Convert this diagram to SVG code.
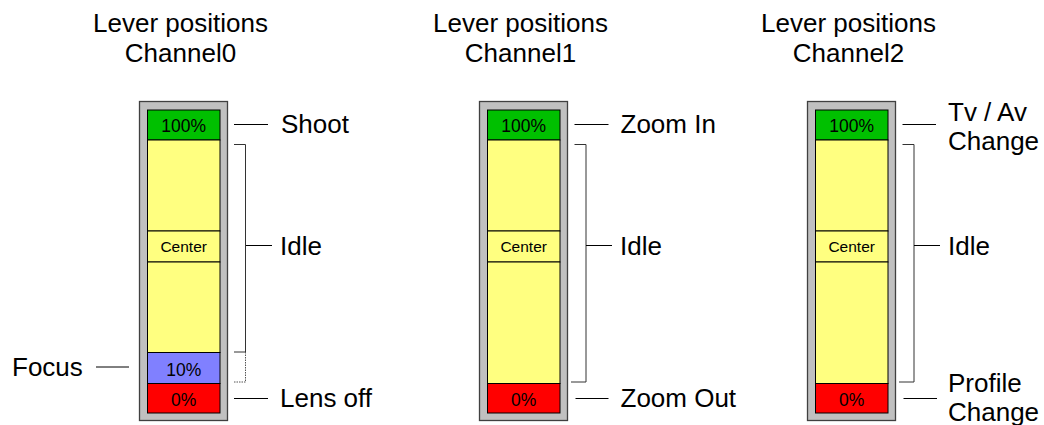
<svg xmlns="http://www.w3.org/2000/svg" width="1044" height="425" viewBox="0 0 1044 425">
<style>
.lbl{font-family:"Liberation Sans",Arial,sans-serif;font-size:26px;fill:#000}
.ttl{font-family:"Liberation Sans",Arial,sans-serif;font-size:26px;fill:#000;text-anchor:middle}
.pct{font-family:"Liberation Sans",Arial,sans-serif;font-size:17.5px;fill:#000;text-anchor:middle}
.ctr{font-family:"Liberation Sans",Arial,sans-serif;font-size:15.5px;fill:#000;text-anchor:middle}
.frame{fill:#c0c0c0;stroke:#404040;stroke-width:1.3}
.band{stroke:#000;stroke-width:1}
.g{fill:#00c000}.y{fill:#ffff80}.b{fill:#8080ff}.r{fill:#ff0000}
.ln{stroke:#000;stroke-width:1;fill:none}
.br{stroke:#333;stroke-width:1;fill:none}
.dot{stroke:#555;stroke-width:1;fill:none;stroke-dasharray:1.5 1}
</style>
<rect width="1044" height="425" fill="#fff"/>

<g id="channel0">
  <text class="ttl" x="180.5" y="31.7">Lever positions</text>
  <text class="ttl" x="180.5" y="61.7">Channel0</text>
  <rect class="frame" x="139.5" y="101.5" width="88" height="319"/>
  <rect class="band g" x="147.5" y="110" width="72.5" height="30"/>
  <rect class="band y" x="147.5" y="140" width="72.5" height="91"/>
  <rect class="band y" x="147.5" y="231" width="72.5" height="31"/>
  <rect class="band y" x="147.5" y="262" width="72.5" height="90.5"/>
  <rect class="band b" x="147.5" y="352.5" width="72.5" height="31"/>
  <rect class="band r" x="147.5" y="383.5" width="72.5" height="29.5"/>
  <text class="pct" x="183.7" y="131.5">100%</text>
  <text class="ctr" x="183.7" y="252">Center</text>
  <text class="pct" x="183.7" y="376">10%</text>
  <text class="pct" x="183.7" y="405.5">0%</text>
</g>

<g id="channel1">
  <text class="ttl" x="520.5" y="31.7">Lever positions</text>
  <text class="ttl" x="520.5" y="61.7">Channel1</text>
  <rect class="frame" x="479.5" y="101.5" width="88" height="319"/>
  <rect class="band g" x="487.5" y="110" width="72.5" height="30"/>
  <rect class="band y" x="487.5" y="140" width="72.5" height="91"/>
  <rect class="band y" x="487.5" y="231" width="72.5" height="31"/>
  <rect class="band y" x="487.5" y="262" width="72.5" height="121.5"/>
  <rect class="band r" x="487.5" y="383.5" width="72.5" height="29.5"/>
  <text class="pct" x="523.7" y="131.5">100%</text>
  <text class="ctr" x="523.7" y="252">Center</text>
  <text class="pct" x="523.7" y="405.5">0%</text>
</g>

<g id="channel2">
  <text class="ttl" x="848.5" y="31.7">Lever positions</text>
  <text class="ttl" x="848.5" y="61.7">Channel2</text>
  <rect class="frame" x="807.5" y="101.5" width="88" height="319"/>
  <rect class="band g" x="815.5" y="110" width="72.5" height="30"/>
  <rect class="band y" x="815.5" y="140" width="72.5" height="91"/>
  <rect class="band y" x="815.5" y="231" width="72.5" height="31"/>
  <rect class="band y" x="815.5" y="262" width="72.5" height="121.5"/>
  <rect class="band r" x="815.5" y="383.5" width="72.5" height="29.5"/>
  <text class="pct" x="851.7" y="131.5">100%</text>
  <text class="ctr" x="851.7" y="252">Center</text>
  <text class="pct" x="851.7" y="405.5">0%</text>
</g>

<g id="labels">
  <text class="lbl" x="281" y="133.3">Shoot</text>
  <text class="lbl" x="280" y="254.5">Idle</text>
  <text class="lbl" x="280" y="407">Lens off</text>
  <text class="lbl" x="12" y="376">Focus</text>
  <text class="lbl" x="620.5" y="133.3">Zoom In</text>
  <text class="lbl" x="620" y="254.5">Idle</text>
  <text class="lbl" x="620.5" y="407">Zoom Out</text>
  <text class="lbl" x="948" y="120.7">Tv / Av</text>
  <text class="lbl" x="948" y="150.2">Change</text>
  <text class="lbl" x="948" y="254.5">Idle</text>
  <text class="lbl" x="948" y="391.7">Profile</text>
  <text class="lbl" x="948" y="421">Change</text>
</g>

<g id="connectors">
  <line class="ln" x1="234" y1="124.5" x2="268" y2="124.5"/>
  <polyline class="br" points="234,144.5 245.5,144.5 245.5,352 234,352"/>
  <line class="ln" x1="246" y1="245.5" x2="272" y2="245.5"/>
  <polyline class="dot" points="245.5,352 245.5,382 234,382"/>
  <line class="ln" x1="234" y1="398.5" x2="268" y2="398.5"/>
  <line class="ln" x1="96" y1="367" x2="129" y2="367"/>

  <line class="ln" x1="574.5" y1="124.5" x2="608.5" y2="124.5"/>
  <polyline class="br" points="574.5,144.5 586,144.5 586,382 571,382"/>
  <line class="ln" x1="586" y1="245.5" x2="612" y2="245.5"/>
  <line class="ln" x1="575.5" y1="398.5" x2="608.5" y2="398.5"/>

  <line class="ln" x1="902.5" y1="124.5" x2="936" y2="124.5"/>
  <polyline class="br" points="902.5,144.5 914,144.5 914,382 899,382"/>
  <line class="ln" x1="914" y1="245.5" x2="940" y2="245.5"/>
  <line class="ln" x1="903.5" y1="398.5" x2="937" y2="398.5"/>
</g>
</svg>
